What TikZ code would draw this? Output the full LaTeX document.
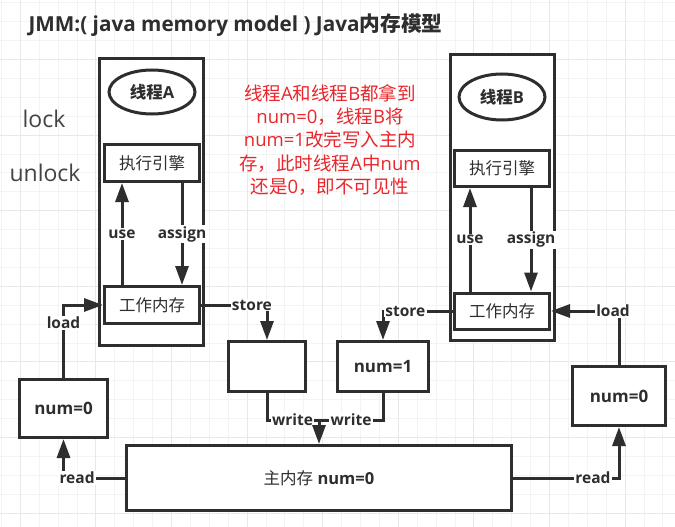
\documentclass[tikz,border=0pt]{standalone}
\usepackage{fontspec}
\setmainfont{Open Sans}
\newfontfamily\cjk{Noto Sans CJK SC}
\usetikzlibrary{arrows.meta,shapes.geometric}
\definecolor{lc}{HTML}{2E2E2E}
\definecolor{redtxt}{HTML}{E8262B}
\definecolor{gminor}{HTML}{F3F3F3}
\definecolor{gmajor}{HTML}{E8E8E8}
\begin{document}
\begin{tikzpicture}[x=1pt,y=-1pt,
  box/.style={draw=lc,line width=3pt,fill=white,inner sep=0pt},
  arr/.style={draw=lc,line width=3pt,-{Triangle[length=19pt,width=13pt]}},
  lnk/.style={draw=lc,line width=3pt},
  lbl/.style={fill=white,inner sep=1.2pt,text=lc,font=\fontsize{15.5pt}{17pt}\selectfont\bfseries},
  btxt/.style={text=lc,font=\fontsize{16.5pt}{19pt}\selectfont},
  numtxt/.style={text=lc,font=\fontsize{17pt}{19pt}\selectfont\bfseries},
  eltxt/.style={text=lc,font=\fontsize{16.5pt}{19pt}\selectfont\bfseries},
  side/.style={text=lc!90,font=\fontsize{23pt}{26pt}\selectfont},
]
\useasboundingbox (0,0) rectangle (675,527);
\fill[white] (0,0) rectangle (675,527);
% grid
\foreach \i in {0,...,35} \draw[gminor,line width=0.8pt] ({1.3+\i*18.9},0) -- ({1.3+\i*18.9},527);
\foreach \j in {0,...,27} \draw[gminor,line width=0.8pt] (0,{2.7+\j*18.9}) -- (675,{2.7+\j*18.9});
\foreach \i in {0,...,8} \draw[gmajor,line width=0.8pt] ({20.2+\i*75.6},0) -- ({20.2+\i*75.6},527);
\foreach \j in {1,...,7} \draw[gmajor,line width=0.8pt] (0,{-16.2+\j*75.6}) -- (675,{-16.2+\j*75.6});

% title and side texts
\node[anchor=west,text=lc,font=\fontsize{20.7pt}{23pt}\selectfont\bfseries] (title) at (25,25) {JMM:( java memory model ) Java{\cjk 内存模型}};
\node[side] (lock) at (44,119) {lock};
\node[side] (unlock) at (45,173) {unlock};

% thread A
\node[box,minimum width=104pt,minimum height=287pt] (thA) at (151.5,202) {};
\node[box,ellipse,minimum width=86pt,minimum height=44pt,eltxt] (elA) at (152,92) {{\cjk 线程}A};
\node[box,minimum width=95pt,minimum height=37pt,btxt] (exA) at (152,163) {\cjk 执行引擎};
\node[box,minimum width=95pt,minimum height=37pt,btxt] (wkA) at (152,305) {\cjk 工作内存};

% thread B
\node[box,minimum width=104pt,minimum height=286pt] (thB) at (502,197.5) {};
\node[box,ellipse,minimum width=86pt,minimum height=46pt,eltxt] (elB) at (502,97) {{\cjk 线程}B};
\node[box,minimum width=95pt,minimum height=36pt,btxt] (exB) at (502,168.5) {\cjk 执行引擎};
\node[box,minimum width=95pt,minimum height=36pt,btxt] (wkB) at (502,311) {\cjk 工作内存};

% note
\node[align=center,text=redtxt,font=\fontsize{18.5pt}{23.2pt}\selectfont] (note) at (330,140)
  {{\cjk 线程}A{\cjk 和线程}B{\cjk 都拿到}\\
   num=0{\cjk ，线程}B{\cjk 将}\\
   num=1{\cjk 改完写入主内}\\
   {\cjk 存，此时线程}A{\cjk 中}num\\
   {\cjk 还是}0{\cjk ，即不可见性}};

% other boxes
\node[box,minimum width=77pt,minimum height=50pt] (emp) at (267,366.5) {};
\node[box,minimum width=91pt,minimum height=50pt,numtxt] (n1) at (383,366.5) {num=1};
\node[box,minimum width=385pt,minimum height=65pt,btxt] (mm) at (319,478) {{\cjk 主内存} \textbf{num=0}};
\node[box,minimum width=88pt,minimum height=58pt,numtxt] (ln0) at (63.5,408.5) {num=0};
\node[box,minimum width=93pt,minimum height=59pt,numtxt] (rn0) at (619,396) {num=0};
\coordinate (joint) at (mm.north |- 0,420);

% thread-internal arrows
\draw[arr] ([xshift=-30pt]wkA.north) -- node[lbl,midway]{use} ([xshift=-30pt]exA.south);
\draw[arr] ([xshift=30pt]exA.south) -- node[lbl,midway]{assign} ([xshift=30pt]wkA.north);
\draw[arr] ([xshift=-32pt]wkB.north) -- node[lbl,midway]{use} ([xshift=-32pt]exB.south);
\draw[arr] ([xshift=29pt]exB.south) -- node[lbl,midway]{assign} ([xshift=29pt]wkB.north);

% store
\draw[arr] (wkA.east) -| node[lbl,pos=0.386]{store} (emp.north);
\draw[arr] (wkB.west) -| node[lbl,pos=0.34]{store} (n1.north);

% write
\draw[lnk] (emp.south) |- node[lbl,pos=0.745]{write} (joint);
\draw[lnk] (n1.south) |- node[lbl,pos=0.75]{write} (joint);
\draw[arr] (joint) -- (mm.north);

% read
\draw[arr] (mm.west) -| node[lbl,pos=0.39]{read} (ln0.south);
\draw[arr] (mm.east) -| node[lbl,pos=0.377]{read} (rn0.south);

% load
\draw[arr] (ln0.north) |- node[lbl,pos=0.377]{load} (wkA.west);
\draw[arr] (rn0.north) |- node[lbl,pos=0.544]{load} (wkB.east);
\end{tikzpicture}
\end{document}
